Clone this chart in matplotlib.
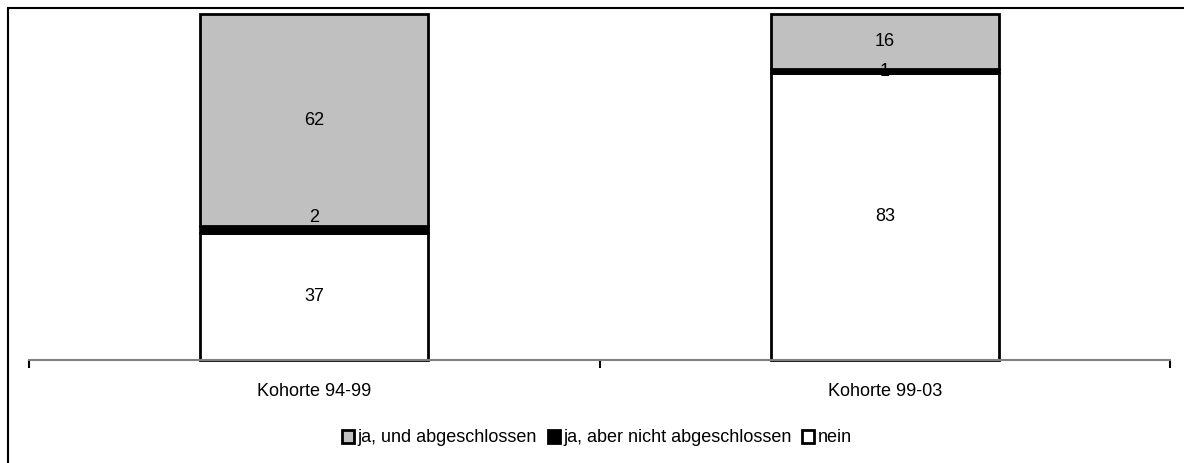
import matplotlib
matplotlib.use("Agg")
import matplotlib.pyplot as plt
from matplotlib.patches import Rectangle, Patch

categories = ["Kohorte 94-99", "Kohorte 99-03"]
nein = [37, 83]
ja_nicht = [2, 1]
ja_abg = [62, 16]
series_labels = ["ja, und abgeschlossen", "ja, aber nicht abgeschlossen", "nein"]

plt.rcParams['font.family'] = ['Liberation Sans', 'DejaVu Sans']

# 100 % stacked columns: shares of each cohort's total
totals = [a + b + c for a, b, c in zip(nein, ja_nicht, ja_abg)]
p_nein = [v / t * 100 for v, t in zip(nein, totals)]
p_nicht = [v / t * 100 for v, t in zip(ja_nicht, totals)]
p_abg = [v / t * 100 for v, t in zip(ja_abg, totals)]

W, H = 1184, 463
fig = plt.figure(figsize=(W/100, H/100), dpi=100)
ax = fig.add_axes([29/W, 1-360/H, (1170-29)/W, (360-14)/H])

x = list(range(len(categories)))
bw = 0.4
ax.bar(x, p_nein, bw, color="white", edgecolor="black", linewidth=2, clip_on=False, zorder=2)
ax.bar(x, p_nicht, bw, bottom=p_nein, color="black", edgecolor="black", linewidth=2, clip_on=False, zorder=2)
bottom3 = [a+b for a, b in zip(p_nein, p_nicht)]
ax.bar(x, p_abg, bw, bottom=bottom3, color="#c0c0c0", edgecolor="black", linewidth=2, clip_on=False, zorder=2)

fs = 13
for i in x:
    ax.text(i, p_nein[i]/2, str(nein[i]), ha="center", va="center", fontsize=fs, zorder=3)
    yc = p_nein[i] + p_nicht[i]/2
    if ja_nicht[i] >= 2:
        ax.annotate(str(ja_nicht[i]), (i, yc), xytext=(0, 9), textcoords="offset points",
                    ha="center", va="center", fontsize=fs, zorder=3)
    else:
        ax.text(i, yc, str(ja_nicht[i]), ha="center", va="center", fontsize=fs, zorder=3)
    ax.text(i, bottom3[i] + p_abg[i]/2, str(ja_abg[i]), ha="center", va="center", fontsize=fs, zorder=3)

ax.set_xlim(-0.5, 1.5)
ax.set_ylim(0, 100)
for s in ["top", "right", "left"]:
    ax.spines[s].set_visible(False)
ax.spines["bottom"].set_color("#808080")
ax.spines["bottom"].set_linewidth(1.5)
ax.set_yticks([])
ax.set_xticks([-0.5, 0.5, 1.5])
ax.set_xticklabels([])
ax.tick_params(axis="x", length=6, width=1.5, color="black", direction="out")
for i, c in enumerate(categories):
    ax.text(i, -0.09, c, transform=ax.get_xaxis_transform(), ha="center", va="center", fontsize=fs)

handles = [Patch(facecolor="#c0c0c0", edgecolor="black", linewidth=2),
           Patch(facecolor="black", edgecolor="black", linewidth=2),
           Patch(facecolor="white", edgecolor="black", linewidth=2)]
fig.legend(handles, series_labels, loc="center", bbox_to_anchor=(597/W, 1-438/H), ncol=3,
           frameon=False, fontsize=fs, handlelength=0.65, handleheight=0.75, handletextpad=0.2,
           columnspacing=0.6)

fig.patches.append(Rectangle((8/W, -0.1), 1.2, 1-7.5/H+0.1, transform=fig.transFigure,
                             fill=False, edgecolor="black", linewidth=1.5))

fig.savefig("out.png", dpi=100)
